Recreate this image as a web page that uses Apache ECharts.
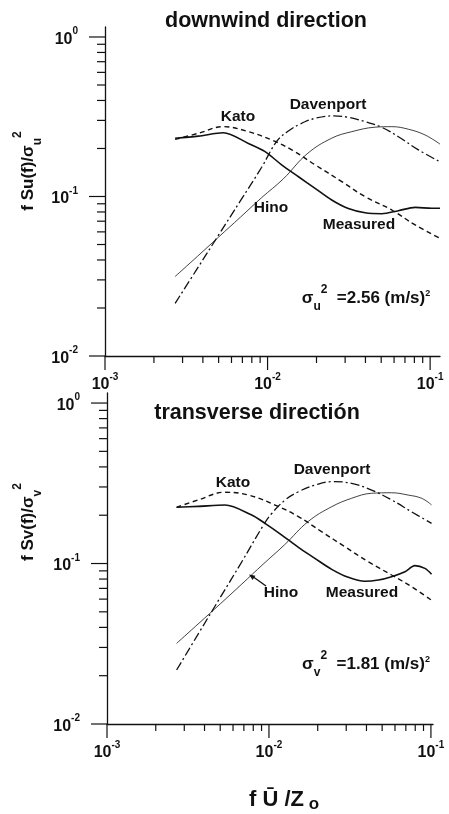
<!DOCTYPE html>
<html><head><meta charset="utf-8">
<script src="https://cdn.jsdelivr.net/npm/echarts@6/dist/echarts.min.js"></script>
<style>html,body{margin:0;padding:0;background:#fff}#c{width:449px;height:814px}</style>
</head><body><div id="c"></div>
<script>
// ---------------- data ----------------
// downwind direction (top panel): [f*U/Zo, f*Su(f)/σu²]
const topMeasured  = [[0.0027,0.232],[0.00375,0.239],[0.00535,0.251],[0.00762,0.215],[0.00965,0.191],[0.0122,0.158],[0.0155,0.133],[0.0196,0.1125],[0.0248,0.095],[0.0314,0.084],[0.0398,0.079],[0.0504,0.078],[0.0638,0.0815],[0.0809,0.0855],[0.1024,0.0843],[0.115,0.0843]];
const topKato      = [[0.0027,0.228],[0.00375,0.249],[0.00535,0.274],[0.00762,0.255],[0.0106,0.226],[0.0141,0.196],[0.0196,0.158],[0.0286,0.124],[0.0398,0.0998],[0.0581,0.0823],[0.0809,0.0663],[0.115,0.0547]];
const topDavenport = [[0.0027,0.0214],[0.0037,0.0354],[0.005,0.0574],[0.0068,0.0938],[0.0092,0.1525],[0.0114,0.222],[0.0135,0.258],[0.0159,0.285],[0.0196,0.309],[0.0255,0.320],[0.0314,0.3135],[0.0398,0.2945],[0.0504,0.2715],[0.0638,0.237],[0.0847,0.196],[0.115,0.165]];
const topHino      = [[0.0027,0.0315],[0.0037,0.0421],[0.005,0.0557],[0.0068,0.0741],[0.0092,0.0984],[0.0125,0.129],[0.0175,0.185],[0.0248,0.232],[0.033,0.255],[0.0459,0.272],[0.0581,0.274],[0.0736,0.264],[0.0931,0.243],[0.115,0.213]];
// transverse direction (bottom panel): [f*U/Zo, f*Sv(f)/σv²]
const botMeasured  = [[0.00269,0.224],[0.00366,0.227],[0.00535,0.2315],[0.00782,0.2006],[0.00945,0.178],[0.012,0.1505],[0.0152,0.126],[0.0192,0.1077],[0.0244,0.092],[0.0309,0.082],[0.0391,0.0775],[0.0473,0.0789],[0.0572,0.0828],[0.0691,0.0889],[0.0796,0.097],[0.0918,0.0933],[0.1009,0.0858]];
const botKato      = [[0.00269,0.224],[0.00366,0.249],[0.00535,0.278],[0.00746,0.267],[0.0109,0.2315],[0.0152,0.196],[0.0211,0.158],[0.0295,0.127],[0.041,0.1026],[0.0572,0.0848],[0.076,0.0717],[0.1009,0.0590]];
const botDavenport = [[0.00269,0.0217],[0.0037,0.0371],[0.005,0.0614],[0.0068,0.1026],[0.0092,0.172],[0.0104,0.205],[0.0126,0.249],[0.0152,0.280],[0.0192,0.308],[0.0244,0.3236],[0.0324,0.316],[0.043,0.287],[0.0572,0.249],[0.076,0.210],[0.1009,0.178]];
const botHino      = [[0.00269,0.0318],[0.0037,0.0425],[0.005,0.056],[0.0068,0.0745],[0.0092,0.099],[0.0125,0.131],[0.0175,0.183],[0.0244,0.226],[0.0324,0.255],[0.043,0.274],[0.0572,0.276],[0.0724,0.267],[0.0876,0.255],[0.1009,0.232]];
// axis ticks
const xMajorTicks = [0.001,0.01,0.1];
const xMinorTicks = [0.002,0.003,0.004,0.005,0.006,0.007,0.008,0.009,0.02,0.03,0.04,0.05,0.06,0.07,0.08,0.09];
const yMajorTicks = [0.01,0.1,1];
const yMinorTicks = [0.02,0.03,0.04,0.05,0.06,0.07,0.08,0.09,0.2,0.3,0.4,0.5,0.6,0.7,0.8,0.9];
const X_MIN = 0.001, Y_MIN = 0.01;
const X_MAX = [0.115, 0.103];
const Y_MAX = 1.155;

// ---------------- chart ----------------
const FONT = "'Liberation Sans', Arial, Helvetica, sans-serif";
const INK = '#111';
const chart = echarts.init(document.getElementById('c'), null, {renderer:'canvas'});

const powRich = {
  b:{fontSize:16, fontWeight:'bold', fontFamily:FONT, color:INK, lineHeight:21, verticalAlign:'bottom'},
  s:{fontSize:10, fontWeight:'bold', fontFamily:FONT, color:INK, lineHeight:10, verticalAlign:'top'}
};
function powLabel(v){
  const e = Math.log10(v), r = Math.round(e);
  if (Math.abs(e - r) > 1e-6) return '';
  return '{b|10}{s|' + (r < 0 ? '-' + (-r) : r) + '}';
}

function xAxis(gi){
  return {type:'log', gridIndex:gi, min:X_MIN, max:X_MAX[gi],
    axisLine:{lineStyle:{color:INK, width:1.3}}, axisTick:{show:false}, splitLine:{show:false}, minorTick:{show:false},
    axisLabel:{formatter:powLabel, rich:powRich, margin:16, showMaxLabel:true}};
}
function yAxis(gi){
  return {type:'log', gridIndex:gi, min:Y_MIN, max:Y_MAX,
    axisLine:{lineStyle:{color:INK, width:1.3}}, axisTick:{show:false}, splitLine:{show:false}, minorTick:{show:false},
    axisLabel:{formatter:powLabel, rich:powRich, margin:27}};
}
function tickSeries(gi, vals, axis, len){
  return {type:'custom', xAxisIndex:gi, yAxisIndex:gi, clip:false, silent:true, z:5,
    data: vals.map(v => axis === 'x' ? [v, Y_MIN] : [X_MIN, v]),
    renderItem:(params, api) => {
      const p = api.coord([api.value(0), api.value(1)]);
      const shape = axis === 'x' ? {x1:p[0], y1:p[1], x2:p[0], y2:p[1] + len}
                                 : {x1:p[0], y1:p[1], x2:p[0] - len, y2:p[1]};
      return {type:'line', shape, style:{stroke:INK, lineWidth:1.2}};
    }};
}
const styles = {
  measured:{type:'solid', width:1.6},
  kato:{type:[5,3.5], width:1.4},
  davenport:{type:[9,3,2,3], width:1.3},
  hino:{type:'solid', width:0.8}
};
function line(gi, data, st, smooth){
  return {type:'line', xAxisIndex:gi, yAxisIndex:gi, data, showSymbol:false, symbol:'none',
    smooth:smooth, lineStyle:{color:INK, width:st.width, type:st.type}, silent:true, z:3};
}

function txt(x, y, text, size){
  return {type:'text', x, y, silent:true, style:{text, fill:INK, font:'bold ' + size + 'px ' + FONT,
    align:'center', verticalAlign:'middle', textAlign:'center', textVerticalAlign:'middle'}};
}
function richTxt(x, y, text, rich, rotation){
  return {type:'text', x, y, rotation: rotation || 0, silent:true,
    style:{text, rich, fill:INK, align:'center', verticalAlign:'middle', textAlign:'center', textVerticalAlign:'middle'}};
}
const base = (fs, lh) => ({fontSize:fs, fontWeight:'bold', fontFamily:FONT, color:INK, lineHeight:lh, verticalAlign:'middle'});
const annRich = {
  a: base(17, 30),
  sb:{fontSize:12, fontWeight:'bold', fontFamily:FONT, color:INK, lineHeight:12, verticalAlign:'bottom'},
  sp:{fontSize:12, fontWeight:'bold', fontFamily:FONT, color:INK, lineHeight:12, verticalAlign:'top', padding:[1,0,0,0]},
  sq:{fontSize:9, fontWeight:'bold', fontFamily:FONT, color:INK, lineHeight:9, verticalAlign:'top', padding:[6,0,0,0]}
};
const yTitleRich = {
  a: base(17, 32),
  sb:{fontSize:12, fontWeight:'bold', fontFamily:FONT, color:INK, lineHeight:12, verticalAlign:'bottom'},
  sp:{fontSize:12, fontWeight:'bold', fontFamily:FONT, color:INK, lineHeight:12, verticalAlign:'top'}
};
const xTitleRich = {
  a: base(22, 32),
  sb:{fontSize:17, fontWeight:'bold', fontFamily:FONT, color:INK, lineHeight:17, verticalAlign:'bottom', padding:[0,0,3,0]}
};

const graphic = [
  txt(266, 21, 'downwind direction', 21.5),
  txt(257, 413, 'transverse directión', 21.5),
  richTxt(28, 171, '{a|f Su(f)/σ}{sb|u}{sp|2}', yTitleRich, Math.PI/2),
  richTxt(28, 522, '{a|f Sv(f)/σ}{sb|v}{sp|2}', yTitleRich, Math.PI/2),
  richTxt(284, 800, '{a|f Ū /Z}{sb| o}', xTitleRich),
  // curve labels, top
  txt(238, 117, 'Kato', 15.5), txt(328, 105, 'Davenport', 15.5), txt(271, 208, 'Hino', 15.5), txt(359, 225, 'Measured', 15.5),
  richTxt(366, 298, '{a|σ}{sb|u}{sp|2}{a|  =2.56 (m/s)}{sq|2}', annRich),
  // curve labels, bottom
  txt(233, 483, 'Kato', 15.5), txt(332, 470, 'Davenport', 15.5), txt(281, 593, 'Hino', 15.5), txt(362, 593, 'Measured', 15.5),
  richTxt(366, 664, '{a|σ}{sb|v}{sp|2}{a|  =1.81 (m/s)}{sq|2}', annRich),
  {type:'polyline', silent:true, shape:{points:[[266,586],[252,576]]}, style:{stroke:INK, lineWidth:1.3, fill:null}},
  {type:'polygon', silent:true, shape:{points:[[249,574.5],[255.4,575.7],[252.6,579.9]]}, style:{fill:INK}}
];

const option = {
  animation:false,
  backgroundColor:'#fff',
  grid:[{left:105, top:27, width:335, height:329}, {left:107, top:393, width:326, height:331}],
  xAxis:[xAxis(0), xAxis(1)],
  yAxis:[yAxis(0), yAxis(1)],
  series:[
    line(0, topMeasured, styles.measured, 0.3),
    line(0, topKato, styles.kato, 0.4),
    line(0, topDavenport, styles.davenport, 0.4),
    line(0, topHino, styles.hino, 0.4),
    line(1, botMeasured, styles.measured, 0.3),
    line(1, botKato, styles.kato, 0.4),
    line(1, botDavenport, styles.davenport, 0.4),
    line(1, botHino, styles.hino, 0.4),
    tickSeries(0, xMajorTicks, 'x', 14), tickSeries(0, xMinorTicks, 'x', 7),
    tickSeries(0, yMajorTicks, 'y', 16), tickSeries(0, yMinorTicks, 'y', 8),
    tickSeries(1, xMajorTicks, 'x', 14), tickSeries(1, xMinorTicks, 'x', 7),
    tickSeries(1, yMajorTicks, 'y', 16), tickSeries(1, yMinorTicks, 'y', 8)
  ],
  graphic
};
chart.setOption(option);
</script></body></html>
